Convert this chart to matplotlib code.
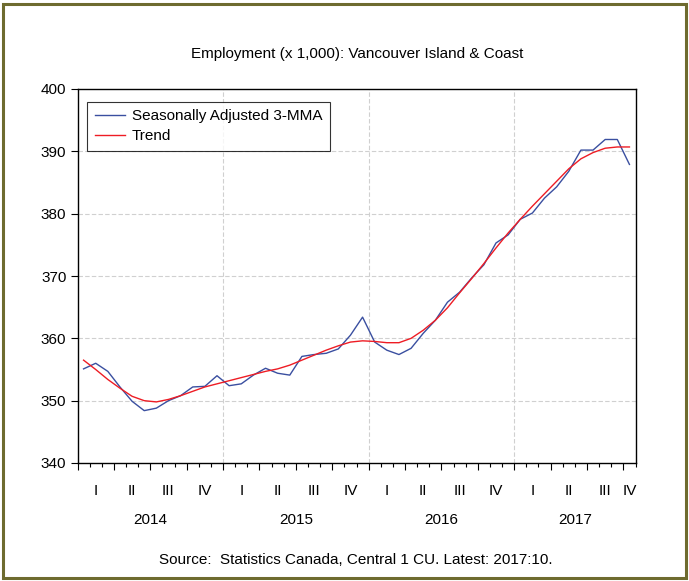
import numpy as np
import matplotlib
matplotlib.use('Agg')
import matplotlib.pyplot as plt
from matplotlib.patches import Rectangle

plt.rcParams['font.family'] = ['Liberation Sans', 'DejaVu Sans']

# monthly data, Jan 2014 .. Oct 2017
sa_3mma = [355.1, 356.0, 354.7, 352.2, 349.9, 348.4, 348.8, 350.0, 350.8, 352.2, 352.3, 354.0,
           352.4, 352.7, 354.1, 355.2, 354.4, 354.1, 357.1, 357.4, 357.6, 358.3, 360.5, 363.4,
           359.4, 358.1, 357.4, 358.4, 360.8, 362.9, 365.8, 367.4, 369.7, 371.8, 375.3, 376.6,
           379.1, 380.1, 382.5, 384.3, 386.8, 390.2, 390.2, 391.9, 391.9, 387.9]
trend = [356.5, 355.0, 353.4, 352.0, 350.7, 350.0, 349.8, 350.2, 350.8, 351.5, 352.2, 352.7,
         353.2, 353.7, 354.2, 354.7, 355.1, 355.7, 356.5, 357.3, 358.1, 358.8, 359.4, 359.6,
         359.5, 359.3, 359.3, 360.0, 361.3, 362.9, 364.9, 367.3, 369.6, 372.0, 374.5, 376.9,
         379.1, 381.2, 383.2, 385.2, 387.2, 388.8, 389.8, 390.5, 390.7, 390.7]
years = ['2014', '2015', '2016', '2017']
quarters = ['I', 'II', 'III', 'IV']

n = len(sa_3mma)
x = np.arange(n) + 0.5

fig = plt.figure(figsize=(6.89, 5.81), dpi=100)
ax = fig.add_axes([77.5 / 689, 118 / 581, 558 / 689, 374 / 581])

ax.plot(x, sa_3mma, color='#3a4fa0', lw=1.0, label='Seasonally Adjusted 3-MMA')
ax.plot(x, trend, color='#ee1c24', lw=1.0, label='Trend')

ax.set_xlim(0, n)
ax.set_ylim(340, 400)
ax.set_yticks(np.arange(340, 401, 10))
ax.tick_params(axis='y', labelsize=11, length=5, width=0.8, direction='out', pad=3)

# month ticks, quarter ticks longer
ax.set_xticks(np.arange(0, n + 1, 3))
ax.set_xticks(np.arange(0, n + 1, 1), minor=True)
ax.set_xticklabels([])
ax.tick_params(axis='x', which='major', length=5, width=0.8, direction='out')
ax.tick_params(axis='x', which='minor', length=3, width=0.8, direction='out')

# quarter and year labels
for q in range(int(np.ceil(n / 3))):
    start = q * 3
    end = min(start + 3, n)
    ax.text((start + end) / 2, -0.075, quarters[q % 4], transform=ax.get_xaxis_transform(),
            ha='center', va='center', fontsize=11)
for k, yr in enumerate(years):
    start = k * 12
    end = min(start + 12, n)
    ax.text((start + end) / 2, -0.152, yr, transform=ax.get_xaxis_transform(),
            ha='center', va='center', fontsize=11)

for v in np.arange(350, 400, 10):
    ax.axhline(v, color='#d0d0d0', lw=0.8, ls=(0, (4, 2)), zorder=0)
for v in [12, 24, 36]:
    ax.axvline(v, color='#d0d0d0', lw=0.8, ls=(0, (4, 2)), zorder=0)

for s in ax.spines.values():
    s.set_linewidth(1.0)

leg = ax.legend(loc='upper left', bbox_to_anchor=(0.017, 0.966), fontsize=11, frameon=True,
                fancybox=False, edgecolor='black', handlelength=2.0, borderpad=0.5,
                labelspacing=0.4, handletextpad=0.45, borderaxespad=0)
leg.get_frame().set_linewidth(0.8)

fig.text(357 / 689, 1 - 54 / 581, 'Employment (x 1,000): Vancouver Island & Coast',
         ha='center', va='center', fontsize=11)
fig.text(356 / 689, 1 - 560 / 581, 'Source:  Statistics Canada, Central 1 CU. Latest: 2017:10.',
         ha='center', va='center', fontsize=11)

fig.patches.append(Rectangle((3 / 689, 3 / 581), 683 / 689, 574 / 581, transform=fig.transFigure,
                             fill=False, edgecolor='#6e6b2f', lw=2.2))

fig.savefig('out.png', dpi=100)
